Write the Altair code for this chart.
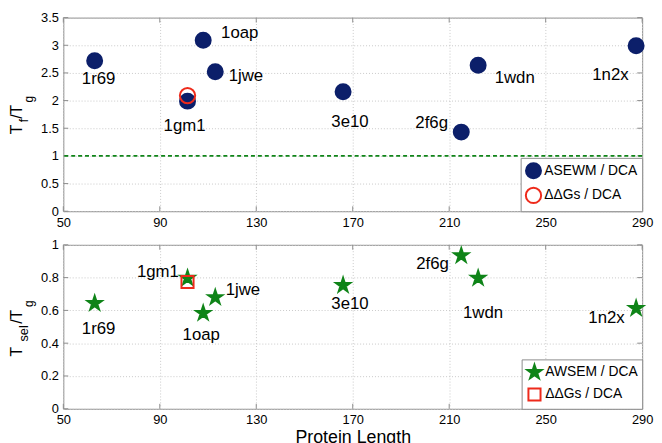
import altair as alt
import pandas as pd

# ---------------- data ----------------
proteins = ["1r69", "1gm1", "1oap", "1jwe", "3e10", "2f6g", "1wdn", "1n2x"]
protein_length = [63, 101.5, 108, 113, 166, 215, 222, 287.5]
tf_over_tg = [2.72, 1.99, 3.09, 2.52, 2.16, 1.43, 2.64, 2.99]
tsel_over_tg = [0.643, 0.797, 0.583, 0.679, 0.753, 0.934, 0.797, 0.613]

ddg_protein = ["1gm1"]
ddg_length = [101.5]
ddg_tf_over_tg = [2.09]
ddg_tsel_over_tg = [0.773]

threshold = [1.0]

x_ticks = [50, 90, 130, 170, 210, 250, 290]
y_ticks_top = [0, 0.5, 1, 1.5, 2, 2.5, 3, 3.5]
y_ticks_bottom = [0, 0.2, 0.4, 0.6, 0.8, 1]

series_top = ["ASEWM / DCA", "ΔΔGs / DCA"]
series_bottom = ["AWSEM / DCA", "ΔΔGs / DCA"]

# ---------------- styling ----------------
FONT = "Liberation Sans"
NAVY = "#0c1f6a"
GREEN = "#0f8418"
RED = "#ee2a1b"
FRAME = "#8c8c8c"
W = 586
H_TOP = 196
H_BOT = 166
STAR = ("M0,-1L0.2245,-0.309L0.951,-0.309L0.363,0.118L0.588,0.809L0,0.382"
        "L-0.588,0.809L-0.363,0.118L-0.951,-0.309L-0.2245,-0.309Z")

# label offsets (pixels, relative to each point; text is centered)
offsets_top = {"1r69": (4, 19), "1gm1": (-3, 25), "1oap": (37, -7), "1jwe": (31, 4),
               "3e10": (7, 31), "2f6g": (-30, -9), "1wdn": (37, 13), "1n2x": (-26, 30)}
offsets_bot = {"1r69": (4, 26), "1gm1": (-30, -6), "1oap": (-2, 22), "1jwe": (28, -7),
               "3e10": (7, 19), "2f6g": (-29, 9), "1wdn": (5, 35), "1n2x": (-30, 10)}

# y-title pieces: (text, fontSize, x, y) relative to plot area, rotated
title_top = [("T", 16, -42, 118), ("f", 12, -36, 106), ("/", 16, -42, 102.5),
             ("T", 16, -42, 98), ("g", 12, -31, 86)]
title_bot = [("T", 16, -42, 113), ("sel", 13, -36, 98), ("/", 16, -42, 80),
             ("T", 16, -42, 75.5), ("g", 12, -31, 63)]


def make_panel(values, ddg_values, series, height, yticks, ydomain, shapes, fills,
               strokes, sizes, offsets, title_pieces, xtitle, with_threshold):
    main = pd.DataFrame({"protein": proteins, "length": protein_length,
                         "value": values, "series": series[0]})
    ddg = pd.DataFrame({"protein": ddg_protein, "length": ddg_length,
                        "value": ddg_values, "series": series[1]})
    pts = pd.concat([main, ddg], ignore_index=True)

    x_axis = alt.Axis(values=x_ticks, title=xtitle, grid=True, ticks=False,
                      domain=False, labelPadding=5, format="d",
                      labelFlush=False, labelOverlap=False, titlePadding=2)
    y_axis = alt.Axis(values=yticks, title=None, grid=True, ticks=False,
                      domain=False, labelPadding=5, format="~g",
                      labelFlush=False, labelOverlap=False)
    x_scale = alt.Scale(domain=[50, 290], nice=False, zero=False)
    y_scale = alt.Scale(domain=ydomain, nice=False, zero=False)
    x_enc = alt.X("length:Q", scale=x_scale, axis=x_axis)
    y_enc = alt.Y("value:Q", scale=y_scale, axis=y_axis)

    leg = alt.Legend(orient="bottom-right", title=None, offset=0, padding=4,
                     strokeColor=FRAME, fillColor="white", labelFontSize=14,
                     labelFont=FONT, labelColor="black", labelOffset=2, rowPadding=1,
                     symbolStrokeWidth=2, cornerRadius=0)

    layers = []
    point_layer = alt.Chart(pts).mark_point(filled=True, opacity=1, strokeWidth=2).encode(
        x=x_enc, y=y_enc,
        shape=alt.Shape("series:N", scale=alt.Scale(domain=series, range=shapes), legend=leg),
        fill=alt.Fill("series:N", scale=alt.Scale(domain=series, range=fills), legend=leg),
        stroke=alt.Stroke("series:N", scale=alt.Scale(domain=series, range=strokes), legend=leg),
        size=alt.Size("series:N", scale=alt.Scale(domain=series, range=sizes), legend=leg),
    )

    # inner tick marks (MATLAB style box ticks)
    xt = pd.DataFrame({"length": x_ticks})
    yt = pd.DataFrame({"value": yticks})
    layers.append(alt.Chart(xt).mark_rule(color=FRAME, strokeWidth=1).encode(
        x=x_enc, y=alt.value(height), y2=alt.value(height - 5)))
    layers.append(alt.Chart(xt).mark_rule(color=FRAME, strokeWidth=1).encode(
        x=x_enc, y=alt.value(0), y2=alt.value(5)))
    layers.append(alt.Chart(yt).mark_rule(color=FRAME, strokeWidth=1).encode(
        y=y_enc, x=alt.value(0), x2=alt.value(5)))
    layers.append(alt.Chart(yt).mark_rule(color=FRAME, strokeWidth=1).encode(
        y=y_enc, x=alt.value(W), x2=alt.value(W - 5)))

    if with_threshold:
        layers.append(alt.Chart(pd.DataFrame({"value": threshold})).mark_rule(
            color=GREEN, strokeDash=[4, 3], strokeWidth=1.6).encode(y=y_enc))

    layers.append(point_layer)

    for name in proteins:
        dx, dy = offsets[name]
        layers.append(alt.Chart(main).transform_filter(alt.datum.protein == name).mark_text(
            dx=dx, dy=dy, fontSize=17, font=FONT, color="black", align="center",
            baseline="middle").encode(x=x_enc, y=y_enc, text="protein:N"))

    for txt, fs, x, y in title_pieces:
        layers.append(alt.Chart(pd.DataFrame({"t": [txt]})).mark_text(
            angle=270, align="left", baseline="alphabetic", fontSize=fs, font=FONT,
            color="black").encode(text="t:N", x=alt.value(x), y=alt.value(y)))

    return alt.layer(*layers).properties(width=W, height=height)


top = make_panel(tf_over_tg, ddg_tf_over_tg, series_top, H_TOP, y_ticks_top, [0, 3.5],
                 ["circle", "circle"], [NAVY, "transparent"], [NAVY, RED], [230, 240],
                 offsets_top, title_top, None, True)
bottom = make_panel(tsel_over_tg, ddg_tsel_over_tg, series_bottom, H_BOT, y_ticks_bottom,
                    [0, 1], [STAR, "square"], [GREEN, "transparent"], [GREEN, RED],
                    [230, 150], offsets_bot, title_bot, "Protein Length", False)

chart = alt.vconcat(top, bottom, spacing=8).resolve_scale(
    x="independent", y="independent", shape="independent", fill="independent",
    stroke="independent", size="independent"
).resolve_legend(
    shape="independent", fill="independent", stroke="independent", size="independent"
).properties(
    padding={"left": 0, "top": 0, "right": 0, "bottom": 0}
).configure(font=FONT).configure_view(
    stroke=FRAME, strokeWidth=1
).configure_axis(
    labelFont=FONT, labelFontSize=13, labelColor="black", gridColor="#c8c8c8",
    gridDash=[1, 2], gridWidth=1, titleFont=FONT, titleFontSize=18,
    titleFontWeight="normal", titleColor="black"
)

chart.save("out.html", embed_options={"renderer": "svg", "actions": False})
